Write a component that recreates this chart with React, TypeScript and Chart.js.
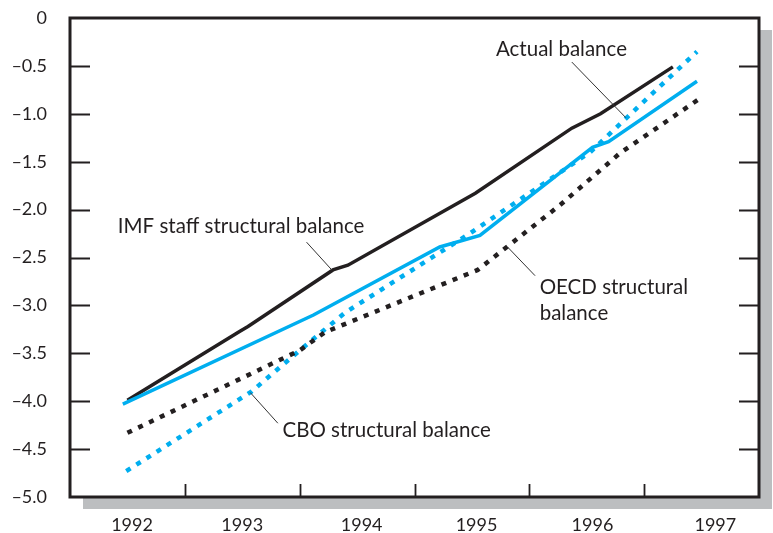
import React, { useEffect, useRef } from "react";
import { Chart, registerables } from "chart.js";

Chart.register(...registerables);

// ---- data ----
const years = ["1992", "1993", "1994", "1995", "1996", "1997"];
const yearLabelPos = [1992.54, 1993.5, 1994.54, 1995.54, 1996.55, 1997.62];
const yearBoundaries = [1993, 1994, 1995, 1996, 1997];
const yTickValues = [-0.5, -1.0, -1.5, -2.0, -2.5, -3.0, -3.5, -4.0, -4.5];

const imfX = [1992.5, 1993.48, 1993.55, 1994.29, 1994.42, 1995.53, 1996.37, 1996.62, 1997.25];
const imfY = [-3.99, -3.27, -3.22, -2.63, -2.58, -1.83, -1.15, -1.0, -0.51];

const actualX = [1992.46, 1994.12, 1995.22, 1995.57, 1996.55, 1996.69, 1997.46];
const actualY = [-4.03, -3.1, -2.39, -2.27, -1.35, -1.29, -0.66];

const cboX = [1992.49, 1993.58, 1994.0, 1994.39, 1995.48, 1996.53, 1997.46];
const cboY = [-4.73, -3.9, -3.47, -3.08, -2.25, -1.4, -0.35];

const oecdX = [1992.5, 1994.0, 1994.22, 1995.55, 1996.27, 1996.79, 1997.51];
const oecdY = [-4.33, -3.47, -3.28, -2.63, -1.95, -1.41, -0.82];

// annotation texts (data coordinates)
const annotations = [
  { lines: ["Actual balance"], x: 1996.28, y: [-0.4], align: "center", from: [1996.37, -0.46], to: [1996.84, -1.04] },
  { lines: ["IMF staff structural balance"], x: 1993.49, y: [-2.244], align: "center", from: [1994.06, -2.34], to: [1994.28, -2.63] },
  { lines: ["OECD structural", "balance"], x: 1996.09, y: [-2.881, -3.152], align: "left", from: [1996.05, -2.69], to: [1995.81, -2.39] },
  { lines: ["CBO structural balance"], x: 1993.85, y: [-4.374], align: "left", from: [1993.57, -3.91], to: [1993.81, -4.23] },
];

const BLACK = "#231f20";
const BLUE = "#00aeef";
const SHADOW = "#bcbec0";
const FONT = "Lato";

const pts = (xs: number[], ys: number[]) => xs.map((x, i) => ({ x, y: ys[i] }));

const framePlugin = {
  id: "frameDeco",
  beforeDraw(chart: any) {
    const { ctx, chartArea: a } = chart;
    ctx.save();
    ctx.fillStyle = SHADOW;
    ctx.fillRect(a.left + 13, a.top + 12, a.right - a.left, a.bottom - a.top);
    ctx.fillStyle = "#ffffff";
    ctx.fillRect(a.left, a.top, a.right - a.left, a.bottom - a.top);
    ctx.restore();
  },
  afterDatasetsDraw(chart: any) {
    const { ctx, chartArea: a, scales } = chart;
    const xs = scales.x;
    const ys = scales.y;
    ctx.save();
    ctx.strokeStyle = BLACK;
    ctx.lineWidth = 1.8;
    ctx.beginPath();
    yearBoundaries.forEach((v) => {
      const px = Math.round(xs.getPixelForValue(v)) + 0.5;
      ctx.moveTo(px, a.bottom);
      ctx.lineTo(px, a.bottom - 13);
    });
    yTickValues.forEach((v) => {
      const py = Math.round(ys.getPixelForValue(v)) + 0.5;
      ctx.moveTo(a.left, py);
      ctx.lineTo(a.left + 20, py);
      ctx.moveTo(a.right - 20, py);
      ctx.lineTo(a.right, py);
    });
    ctx.stroke();

    ctx.lineWidth = 3;
    ctx.strokeRect(a.left, a.top, a.right - a.left, a.bottom - a.top);

    // annotations
    ctx.fillStyle = BLACK;
    ctx.font = `20.5px ${FONT}`;
    ctx.textBaseline = "alphabetic";
    annotations.forEach((an) => {
      ctx.textAlign = an.align as CanvasTextAlign;
      an.lines.forEach((t, i) => {
        ctx.fillText(t, xs.getPixelForValue(an.x), ys.getPixelForValue(an.y[i]));
      });
      ctx.beginPath();
      ctx.lineWidth = 1;
      ctx.strokeStyle = "#333";
      ctx.moveTo(xs.getPixelForValue(an.from[0]), ys.getPixelForValue(an.from[1]));
      ctx.lineTo(xs.getPixelForValue(an.to[0]), ys.getPixelForValue(an.to[1]));
      ctx.stroke();
    });
    ctx.restore();
  },
};

export default function App() {
  const ref = useRef<HTMLCanvasElement>(null);
  useEffect(() => {
    if (!ref.current) return;
    const chart = new Chart(ref.current, {
      type: "line",
      data: {
        datasets: [
          { label: "OECD structural balance", data: pts(oecdX, oecdY), borderColor: BLACK, borderWidth: 4.5, borderDash: [5, 7], pointRadius: 0, tension: 0 },
          { label: "CBO structural balance", data: pts(cboX, cboY), borderColor: BLUE, borderWidth: 4.5, borderDash: [5, 7], pointRadius: 0, tension: 0 },
          { label: "Actual balance", data: pts(actualX, actualY), borderColor: BLUE, borderWidth: 3.5, pointRadius: 0, tension: 0 },
          { label: "IMF staff structural balance", data: pts(imfX, imfY), borderColor: BLACK, borderWidth: 3.5, pointRadius: 0, tension: 0 },
        ],
      },
      options: {
        animation: false,
        responsive: false,
        devicePixelRatio: 1,
        layout: { padding: { top: 18, right: 14, left: 0, bottom: 0 } },
        plugins: { legend: { display: false }, tooltip: { enabled: false } },
        scales: {
          x: {
            type: "linear",
            min: 1992,
            max: 1998,
            grid: { display: false },
            border: { display: false },
            afterBuildTicks: (s: any) => {
              s.ticks = yearLabelPos.map((v) => ({ value: v }));
            },
            afterFit: (s: any) => {
              s.height = 36;
              s.paddingLeft = 0;
              s.paddingRight = 0;
            },
            ticks: {
              autoSkip: false,
              maxRotation: 0,
              padding: 9,
              color: BLACK,
              font: { family: FONT, size: 18 },
              callback: (_v: any, i: number) => years[i],
            },
          },
          y: {
            type: "linear",
            min: -5,
            max: 0,
            grid: { display: false },
            border: { display: false },
            afterFit: (s: any) => {
              s.width = 70;
              s.paddingTop = 0;
              s.paddingBottom = 0;
            },
            ticks: {
              stepSize: 0.5,
              padding: 15,
              color: BLACK,
              font: { family: FONT, size: 18 },
              callback: (v: any) => (Number(v) === 0 ? "0" : "\u2013" + Math.abs(Number(v)).toFixed(1)),
            },
          },
        },
      },
      plugins: [framePlugin],
    });
    return () => chart.destroy();
  }, []);
  return (
    <div style={{ position: "fixed", left: 0, top: 0, width: 773, height: 533 }}>
      <canvas ref={ref} width={773} height={533} style={{ display: "block" }} />
    </div>
  );
}
